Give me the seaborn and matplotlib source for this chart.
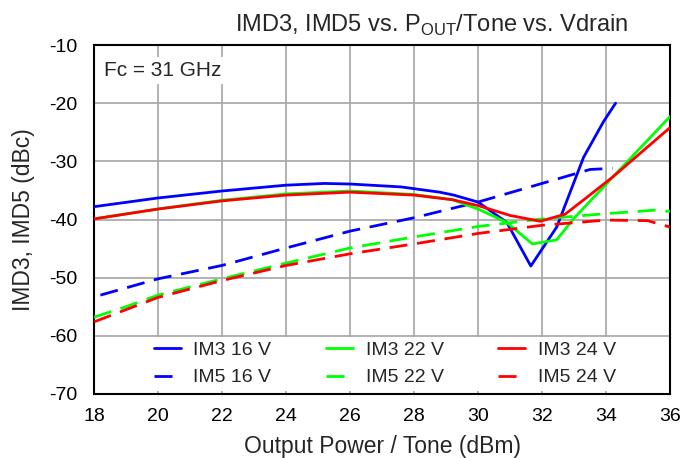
import matplotlib
matplotlib.use("Agg")
import matplotlib.pyplot as plt
import seaborn as sns
import pandas as pd

# ---- data ----
im3_16_x = [18.0, 20.0, 22.0, 24.0, 25.2, 26.0, 27.6, 28.8, 29.24, 30.0, 30.9, 31.65, 32.46, 33.3, 33.92, 34.3]
im3_16_y = [-37.8, -36.3, -35.1, -34.1, -33.8, -33.9, -34.4, -35.3, -35.8, -37.0, -40.5, -48.0, -41.3, -29.3, -23.2, -20.0]

im5_16_x = [18.2, 20.0, 22.0, 24.0, 26.0, 28.0, 30.0, 32.0, 33.5, 34.2]
im5_16_y = [-53.0, -50.2, -47.9, -44.9, -42.0, -39.7, -37.0, -33.8, -31.4, -31.2]

im3_22_x = [18.0, 20.0, 22.0, 24.0, 26.0, 28.0, 29.2, 30.0, 30.9, 31.7, 32.46, 32.98, 34.23, 36.0]
im3_22_y = [-39.9, -38.2, -36.7, -35.6, -35.1, -35.7, -36.6, -38.2, -40.5, -44.2, -43.5, -39.9, -32.6, -22.3]

im3_24_x = [18.0, 20.0, 22.0, 24.0, 26.0, 28.0, 29.2, 30.0, 31.0, 31.94, 32.72, 33.4, 34.23, 36.0]
im3_24_y = [-39.9, -38.2, -36.8, -35.8, -35.3, -35.8, -36.6, -37.6, -39.3, -40.3, -39.1, -36.2, -32.6, -24.2]

im5_22_x = [18.0, 19.0, 20.0, 22.0, 24.0, 26.0, 28.0, 30.0, 32.0, 34.0, 35.5, 36.0]
im5_22_y = [-56.8, -55.0, -53.0, -50.2, -47.5, -44.9, -43.0, -41.2, -39.9, -39.0, -38.4, -38.6]

im5_24_x = [18.0, 20.0, 22.0, 24.0, 26.0, 28.0, 30.0, 32.0, 34.0, 35.3, 36.0]
im5_24_y = [-57.6, -53.4, -50.5, -47.9, -45.9, -44.2, -42.4, -41.0, -40.1, -40.2, -41.3]

series = [
    ("IM3 16 V", im3_16_x, im3_16_y, "#0000FF", False),
    ("IM5 16 V", im5_16_x, im5_16_y, "#0000FF", True),
    ("IM3 22 V", im3_22_x, im3_22_y, "#00FF00", False),
    ("IM5 22 V", im5_22_x, im5_22_y, "#00FF00", True),
    ("IM3 24 V", im3_24_x, im3_24_y, "#FF0000", False),
    ("IM5 24 V", im5_24_x, im5_24_y, "#FF0000", True),
]

x_ticks = [18, 20, 22, 24, 26, 28, 30, 32, 34, 36]
y_ticks = [-10, -20, -30, -40, -50, -60, -70]

sns.set_style("white")
plt.rcParams['font.family'] = ['Liberation Sans', 'DejaVu Sans']
plt.rcParams['mathtext.fontset'] = 'custom'
plt.rcParams['mathtext.rm'] = 'Liberation Sans'
plt.rcParams['axes.unicode_minus'] = False

fig = plt.figure(figsize=(6.99, 4.58), dpi=100)
ax = fig.add_axes([94/699, 1-394/458, (670-94)/699, (394-45)/458])

handles = []
for name, xs, ys, col, dashed in series:
    df = pd.DataFrame({"x": xs, "y": ys})
    sns.lineplot(data=df, x="x", y="y", ax=ax, color=col, lw=2, sort=False,
                 estimator=None, label=name, zorder=3)
    line = ax.get_lines()[-1]
    if dashed:
        line.set_dashes((6.5, 3.5))
    handles.append(line)

ax.set_xlim(18, 36)
ax.set_ylim(-70, -10)
ax.set_xticks(x_ticks)
ax.set_yticks(y_ticks)
ax.tick_params(axis='both', labelsize=14, length=0, colors='black')
ax.tick_params(axis='x', pad=10)
ax.tick_params(axis='y', pad=12)
ax.grid(True, color='#a6a6a6', lw=1.2, zorder=0)
ax.set_axisbelow(True)
for s in ax.spines.values():
    s.set_color('black')
    s.set_linewidth(1.5)
    s.set_zorder(2.6)

ax.set_xlabel("Output Power / Tone (dBm)", fontsize=16.5, labelpad=0)
ax.set_ylabel("IMD3, IMD5 (dBc)", fontsize=16.5)
ax.yaxis.set_label_coords(-(94-24)/576, 0.5)
ax.xaxis.set_label_coords(0.5, -(446-394)/349)
ax.xaxis.label.set_va('center')
ax.yaxis.label.set_va('center')

fig.text(432/699, 1-25/458, r"IMD3, IMD5 vs. P$_\mathregular{OUT}$/Tone vs. Vdrain",
         ha='center', va='center', fontsize=17)

ax.text(0.018, 0.955, "Fc = 31 GHz", transform=ax.transAxes, fontsize=15,
        ha='left', va='top', zorder=6,
        bbox=dict(facecolor='white', edgecolor='none', pad=3))

leg = ax.legend(handles=handles, labels=[s[0] for s in series], ncol=3,
                loc='lower center', bbox_to_anchor=(0.505, -0.02),
                fontsize=14, frameon=True, fancybox=False, framealpha=1,
                edgecolor='none', handlelength=1.4, handletextpad=0.65,
                columnspacing=2.8, borderpad=0.25, labelspacing=0.5)
leg.set_zorder(2.4)

fig.savefig("out.png", dpi=100)
